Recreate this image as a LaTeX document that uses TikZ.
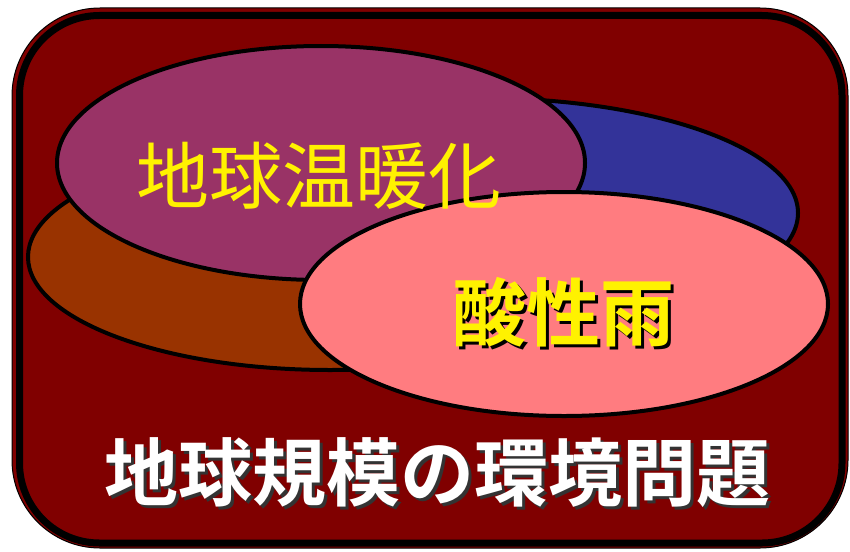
\documentclass[tikz,border=0pt]{standalone}
\usepackage{fontspec}
\newfontfamily\jpfont{Noto Sans CJK JP}
\newfontfamily\jpbold{Noto Sans CJK JP Bold}
\usetikzlibrary{shapes.geometric}
\definecolor{bgred}{HTML}{800000}
\definecolor{cbrown}{HTML}{993300}
\definecolor{cblue}{HTML}{333399}
\definecolor{cpurple}{HTML}{993366}
\definecolor{cpink}{HTML}{FF7C80}
\tikzset{
  blob/.style={ellipse, draw=black, line width=4pt, inner sep=0pt},
  lbl/.style={inner sep=0pt, anchor=center},
}
\begin{document}
\begin{tikzpicture}[x=1pt,y=-1pt]
\useasboundingbox (0,0) rectangle (850,551);
% frame
\draw[fill=bgred, draw=black, line width=1pt, rounded corners=88pt] (12,8) rectangle (848,548);
\draw[fill=bgred, draw=black, line width=7pt, rounded corners=80pt] (19.5,15.5) rectangle (842,543);
% ellipses
\node[blob, fill=cblue, minimum width=636pt, minimum height=230pt] (blue) at (480,213) {};
\node[blob, fill=cbrown, minimum width=604pt, minimum height=226pt] (brown) at (330,257) {};
\node[blob, fill=cpurple, minimum width=528pt, minimum height=234pt] (purple) at (321,163) {};
\node[blob, fill=cpink, minimum width=528pt, minimum height=224pt] (pink) at (564,304) {};
% labels
\node[lbl, text=yellow, font=\jpfont\fontsize{73}{73}\selectfont] (t1) at (319,176) {地球温暖化};
\node[lbl, text=black, font=\jpbold\fontsize{74}{74}\selectfont] (t2s) at (566,315) {酸性雨};
\node[lbl, text=yellow, font=\jpbold\fontsize{74}{74}\selectfont] (t2) at (563,312) {酸性雨};
\node[lbl, text=black!80, font=\jpbold\fontsize{74}{74}\selectfont] (t3s) at (440,476) {地球規模の環境問題};
\node[lbl, text=white, font=\jpbold\fontsize{74}{74}\selectfont] (t3) at (437,473) {地球規模の環境問題};
\end{tikzpicture}
\end{document}
